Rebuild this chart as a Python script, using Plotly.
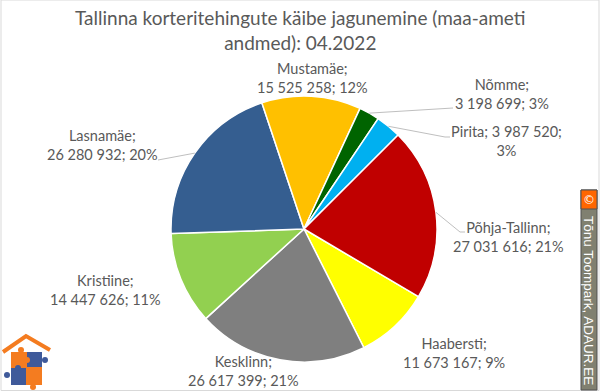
import math
import plotly.graph_objects as go

# ---- data ----
districts = ["Haabersti", "Kesklinn", "Kristiine", "Lasnamäe", "Mustamäe",
             "Nõmme", "Pirita", "Põhja-Tallinn"]
turnover = [11673167, 26617399, 14447626, 26280932, 15525258,
            3198699, 3987520, 27031616]
pct_labels = ["9%", "21%", "11%", "20%", "12%", "3%", "3%", "21%"]
colors = ["#FFFF00", "#7F7F7F", "#92D050", "#355E90", "#FFC000",
          "#006400", "#00B0F0", "#C00000"]
title_lines = ["Tallinna korteritehingute käibe jagunemine (maa-ameti",
               "andmed): 04.2022"]

W, H = 600, 392
CX, CY, R = 304, 229, 133
ROT = 120.6  # start angle of first slice (clockwise from 12 o'clock)


def fmt(v):
    return f"{v:,}".replace(",", " ")


total = sum(turnover)

fig = go.Figure(go.Pie(
    labels=districts, values=turnover, sort=False, direction="clockwise",
    rotation=ROT, textinfo="none", hoverinfo="label+value+percent",
    marker=dict(colors=colors, line=dict(color="white", width=1.5)),
    domain=dict(x=[(CX - R) / W, (CX + R) / W],
                y=[(H - CY - R) / H, (H - CY + R) / H]),
    showlegend=False,
))


def px(x, y):
    return x / W, 1 - y / H


# label placement (label center, optional leader line end)
label_layout = {
    "Haabersti": dict(pos=(454, 353), lines=None),
    "Kesklinn": dict(pos=(243, 371), lines=None),
    "Kristiine": dict(pos=(105, 290), lines=None),
    "Lasnamäe": dict(pos=(102, 145), lines=[(158, 160)]),
    "Mustamäe": dict(pos=(312, 78), lines=None),
    "Nõmme": dict(pos=(502, 94), lines=[(453, 108)]),
    "Pirita": dict(pos=(506, 141), lines=[(445, 137), (450, 137)]),
    "Põhja-Tallinn": dict(pos=(508, 237), lines=[(460, 232), (465, 232)]),
}

label_text = {
    "Pirita": lambda v, p: f"Pirita; {fmt(v)};<br>{p}",
}

annotations = []
shapes = []
cum = 0.0
for name, v, p in zip(districts, turnover, pct_labels):
    mid = ROT + (cum + v / 2) / total * 360
    cum += v
    info = label_layout[name]
    if name in label_text:
        txt = label_text[name](v, p)
    else:
        txt = f"{name};<br>{fmt(v)}; {p}"
    x, y = px(*info["pos"])
    annotations.append(dict(text=txt, x=x, y=y, xref="paper", yref="paper",
                            showarrow=False, xanchor="center", yanchor="middle",
                            font=dict(family="Lato", size=14.5, color="#595959"),
                            align="center"))
    if info["lines"]:
        a = math.radians(mid)
        sx, sy = CX + R * math.sin(a), CY - R * math.cos(a)
        pts = [(sx, sy)] + info["lines"]
        path = "M " + " L ".join(f"{px(xx, yy)[0]},{px(xx, yy)[1]}" for xx, yy in pts)
        shapes.append(dict(type="path", path=path, xref="paper", yref="paper",
                           line=dict(color="#BFBFBF", width=1)))

# title as annotation
annotations.append(dict(text="<br>".join(title_lines), x=0.5, y=1 - 30 / H,
                        xref="paper", yref="paper", showarrow=False,
                        xanchor="center", yanchor="middle", align="center",
                        font=dict(family="Lato", size=19, color="#595959")))

# chart border
shapes.append(dict(type="rect", xref="paper", yref="paper",
                   x0=1 / W, x1=599 / W, y0=1 - 390.5 / H, y1=1,
                   line=dict(color="#D9D9D9", width=1)))

# copyright strip
shapes.append(dict(type="rect", xref="paper", yref="paper",
                   x0=581 / W, x1=597 / W, y0=1 - 390 / H, y1=1 - 190 / H,
                   fillcolor="#808070", line=dict(color="#505050", width=1)))
shapes.append(dict(type="rect", xref="paper", yref="paper",
                   x0=581 / W, x1=597 / W, y0=1 - 209 / H, y1=1 - 190 / H,
                   fillcolor="#FF6600", line=dict(color="#505050", width=1)))
annotations.append(dict(text="©", x=589 / W, y=1 - 199.5 / H, xref="paper", yref="paper",
                        xanchor="center", yanchor="middle", showarrow=False,
                        font=dict(family="DejaVu Sans", size=12, color="white")))
annotations.append(dict(text="Tõnu Toompark, ADAUR.EE", x=589 / W, y=1 - 300 / H,
                        xref="paper", yref="paper", showarrow=False, textangle=90,
                        xanchor="center", yanchor="middle",
                        font=dict(family="Liberation Sans", size=13.5, color="white")))

# logo (house + puzzle)
def rect(x0, y0, x1, y1, c):
    return dict(type="rect", xref="paper", yref="paper", x0=x0 / W, x1=x1 / W,
                y0=1 - y1 / H, y1=1 - y0 / H, fillcolor=c, line=dict(width=0))


def circ(x, y, r, c):
    return dict(type="circle", xref="paper", yref="paper", x0=(x - r) / W, x1=(x + r) / W,
                y0=1 - (y + r) / H, y1=1 - (y - r) / H, fillcolor=c, line=dict(width=0))


OR, BL = "#F47C20", "#3F5A9A"
roof = [(3, 352), (26, 336), (50, 350)]
shapes.append(dict(type="path", xref="paper", yref="paper",
                   path="M " + " L ".join(f"{px(a, b)[0]},{px(a, b)[1]}" for a, b in roof),
                   line=dict(color=OR, width=4)))
shapes += [rect(11, 352, 27, 368, OR), rect(27, 352, 42, 367, BL),
           rect(11, 368, 26, 385, BL), rect(26, 367, 42, 385, OR),
           circ(45, 360, 3, BL), circ(7, 375, 3, BL), circ(33, 387, 3, OR),
           circ(21, 350, 3, OR), circ(27, 360, 3, OR), circ(18, 368, 3, BL)]

fig.update_layout(
    width=W, height=H, margin=dict(l=0, r=0, t=0, b=0),
    paper_bgcolor="white", plot_bgcolor="white",
    annotations=annotations, shapes=shapes,
)

fig.write_html("out.html", config={"displayModeBar": False},
               post_script="document.body.style.margin='0';"
                           "document.body.style.overflow='hidden';")
